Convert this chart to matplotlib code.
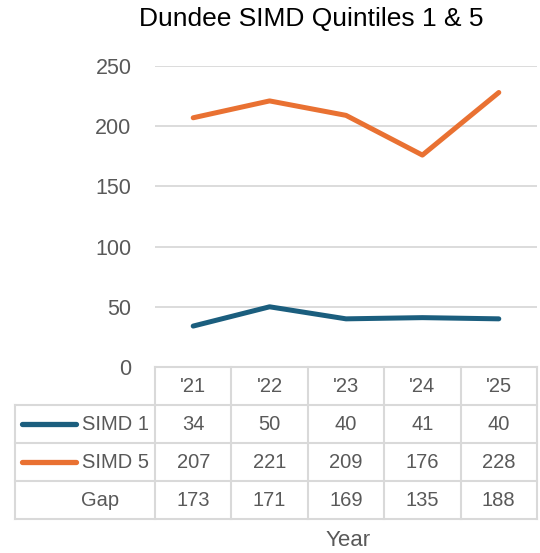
import matplotlib.pyplot as plt

plt.rcParams['font.family'] = ['Liberation Sans', 'DejaVu Sans']

# data
years = ["'21", "'22", "'23", "'24", "'25"]
simd1 = [34, 50, 40, 41, 40]
simd5 = [207, 221, 209, 176, 228]
gap = [173, 171, 169, 135, 188]

blue = "#1b5e7e"
orange = "#e97132"
grey_txt = "#595959"
grid_c = "#d9d9d9"

W, H = 540, 553
fig = plt.figure(figsize=(W / 100, H / 100), dpi=100)

# pixel layout
left, right = 155, 537
y0, y250 = 367, 66

def fx(px):
    return px / W

def fy(py):
    return 1 - py / H

ax = fig.add_axes([fx(left), fy(y0), fx(right) - fx(left), fy(y250) - fy(y0)])
xs = [i + 0.5 for i in range(len(years))]
ax.plot(xs, simd1, color=blue, lw=3.6, solid_capstyle="round", clip_on=False)
ax.plot(xs, simd5, color=orange, lw=3.6, solid_capstyle="round", clip_on=False)
ax.set_xlim(0, len(years))
ax.set_ylim(0, 250)
ax.set_yticks([0, 50, 100, 150, 200, 250])
ax.set_xticks([])
ax.grid(axis="y", color=grid_c, lw=1.3)
ax.set_axisbelow(True)
for s in ax.spines.values():
    s.set_visible(False)
ax.tick_params(axis="y", length=0, pad=17, labelsize=15.5, labelcolor=grey_txt)

fig.text(fx(311), fy(19), "Dundee SIMD Quintiles 1 & 5", ha="center", va="center",
         fontsize=19, color="black")

# data table under the axis, in pixel coordinates
tb = fig.add_axes([0, 0, 1, 1], facecolor="none")
tb.set_xlim(0, W)
tb.set_ylim(H, 0)
tb.axis("off")

col_w = (right - left) / len(years)
row_y = [367, 405, 443, 481, 519]
tab_left = 15
lc = dict(color=grid_c, lw=1.5)

# horizontal lines
tb.plot([left, right], [row_y[0], row_y[0]], **lc)
for yy in row_y[1:]:
    tb.plot([tab_left, right], [yy, yy], **lc)
# vertical lines
tb.plot([tab_left, tab_left], [row_y[1], row_y[-1]], **lc)
for i in range(len(years) + 1):
    xx = left + i * col_w
    tb.plot([xx, xx], [row_y[0], row_y[-1]], **lc)

rows = [("SIMD 1", simd1, blue), ("SIMD 5", simd5, orange), ("Gap", gap, None)]
for i, yr in enumerate(years):
    tb.text(left + (i + 0.5) * col_w, (row_y[0] + row_y[1]) / 2, yr,
            ha="center", va="center", fontsize=14.5, color=grey_txt)
for r, (name, vals, col) in enumerate(rows):
    cy = (row_y[r + 1] + row_y[r + 2]) / 2
    if col is not None:
        tb.plot([22, 76], [cy, cy], color=col, lw=3.8, solid_capstyle="round")
        tb.text(149, cy, name, ha="right", va="center", fontsize=14.5, color=grey_txt)
    else:
        tb.text(100, cy, name, ha="center", va="center", fontsize=14.5, color=grey_txt)
    for i, v in enumerate(vals):
        tb.text(left + (i + 0.5) * col_w, cy, str(v), ha="center", va="center",
                fontsize=14.5, color=grey_txt)

tb.text(348, 541, "Year", ha="center", va="center", fontsize=16, color=grey_txt)

fig.savefig("out.png", dpi=100)
